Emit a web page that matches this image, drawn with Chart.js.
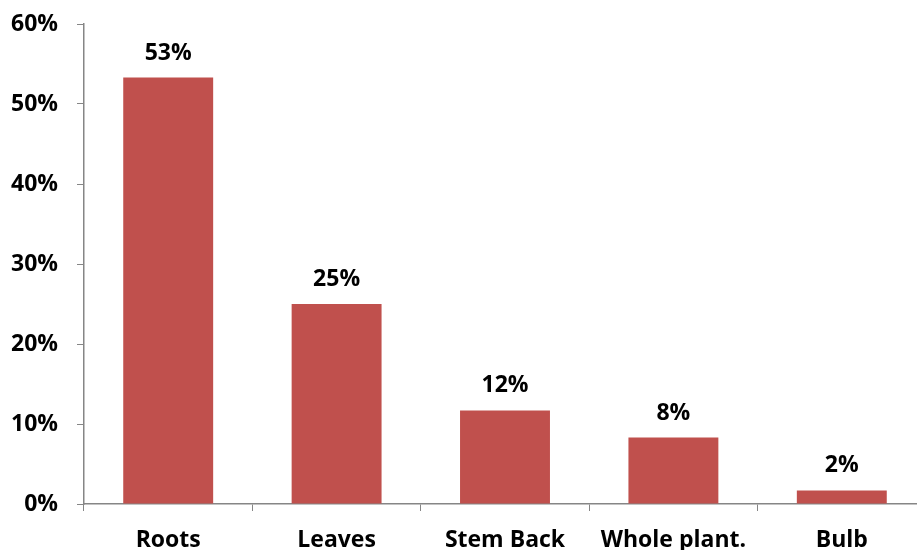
<!DOCTYPE html>
<html>
<head>
<meta charset="utf-8">
<script src="https://cdn.jsdelivr.net/npm/chart.js@4.4.0/dist/chart.umd.min.js"></script>
<style>
  html, body { margin: 0; padding: 0; background: #fff; overflow: hidden; }
  /* the axis in the original runs a little past the right edge */
  #wrap { width: 926px; height: 550px; }
</style>
</head>
<body>
<div id="wrap"><canvas id="chart"></canvas></div>
<script>
const categories = ['Roots', 'Leaves', 'Stem Back', 'Whole plant.', 'Bulb'];
const shares = [53.3, 25.0, 11.7, 8.3, 1.7];
const yTicks = [0, 10, 20, 30, 40, 50, 60];

const fontFamily = '"Open Sans", Lato, "Liberation Sans", sans-serif';

// draws the % labels above each bar
const barLabels = {
  id: 'barLabels',
  afterDatasetsDraw(chart) {
    const ctx = chart.ctx;
    const meta = chart.getDatasetMeta(0);
    ctx.save();
    ctx.font = 'bold 23px ' + fontFamily;
    ctx.fillStyle = '#000';
    ctx.textAlign = 'center';
    ctx.textBaseline = 'alphabetic';
    meta.data.forEach(function (bar, i) {
      ctx.fillText(Math.round(shares[i]) + '%', bar.x, bar.y - 18);
    });
    ctx.restore();
  }
};

new Chart(document.getElementById('chart'), {
  type: 'bar',
  data: {
    labels: categories,
    datasets: [{
      data: shares,
      backgroundColor: '#C0504D',
      borderWidth: 0,
      categoryPercentage: 1,
      barPercentage: 0.534
    }]
  },
  options: {
    responsive: true,
    maintainAspectRatio: false,
    animation: false,
    layout: { padding: { top: 24, right: 0, left: 0, bottom: 0 } },
    plugins: {
      legend: { display: false },
      tooltip: { enabled: false }
    },
    scales: {
      x: {
        grid: {
          display: true,
          drawOnChartArea: false,
          offset: true,
          tickLength: 7,
          color: '#868686'
        },
        border: { color: '#868686', width: 1.5 },
        ticks: {
          color: '#000',
          font: { family: fontFamily, size: 23, weight: 'bold' },
          padding: 16,
          maxRotation: 0,
          autoSkip: false
        },
        afterFit(scale) { scale.height = 46; }
      },
      y: {
        min: 0,
        max: 60,
        afterBuildTicks(scale) {
          scale.ticks = yTicks.map(v => ({ value: v }));
        },
        grid: {
          display: true,
          drawOnChartArea: false,
          tickLength: 7,
          color: '#868686'
        },
        border: { color: '#868686', width: 1.5 },
        ticks: {
          color: '#000',
          font: { family: fontFamily, size: 23, weight: 'bold' },
          padding: 19,
          callback: v => v + '%'
        },
        afterFit(scale) {
          scale.width = 84;
          scale.paddingTop = 0;
          scale.paddingBottom = 0;
        }
      }
    }
  },
  plugins: [barLabels]
});
</script>
</body>
</html>
